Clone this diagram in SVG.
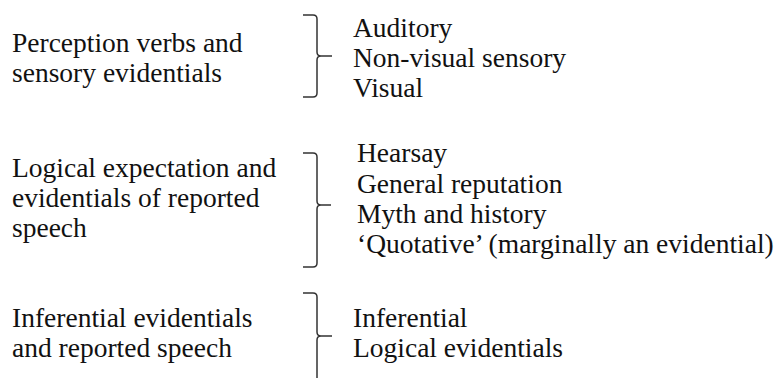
<svg xmlns="http://www.w3.org/2000/svg" width="784" height="378" viewBox="0 0 784 378">
  <style>
    text { font-family: "Liberation Serif", "DejaVu Serif", serif; font-size: 27.5px; fill: #111; }
    .brace { fill: none; stroke: #333; stroke-width: 1.5; stroke-linejoin: round; }
  </style>
  <rect width="784" height="378" fill="#ffffff"/>

  <!-- Group 1 -->
  <g id="group-perception">
    <text x="12" y="52">Perception verbs and</text>
    <text x="12" y="82">sensory evidentials</text>
  </g>
  <g id="list-perception">
    <text x="353" y="37">Auditory</text>
    <text x="353" y="67">Non-visual sensory</text>
    <text x="353" y="97">Visual</text>
  </g>

  <!-- Group 2 -->
  <g id="group-reported">
    <text x="12" y="177">Logical expectation and</text>
    <text x="12" y="207">evidentials of reported</text>
    <text x="12" y="237">speech</text>
  </g>
  <g id="list-reported">
    <text x="357" y="162">Hearsay</text>
    <text x="357" y="193">General reputation</text>
    <text x="357" y="223">Myth and history</text>
    <text x="357" y="253">‘Quotative’ (marginally an evidential)</text>
  </g>

  <!-- Group 3 -->
  <g id="group-inferential">
    <text x="12" y="327">Inferential evidentials</text>
    <text x="12" y="357">and reported speech</text>
  </g>
  <g id="list-inferential">
    <text x="353" y="327">Inferential</text>
    <text x="353" y="357">Logical evidentials</text>
  </g>

  <!-- Braces linking each category to its list -->
  <g id="connectors">
    <path class="brace" d="M303,15 H313 Q317,15 317,19 V52 Q317,56 321,56 H332 M321,56 Q317,56 317,60 V93 Q317,97 313,97 H303"/>
    <path class="brace" d="M303,153 H313 Q317,153 317,157 V201 Q317,205 321,205 H331 M321,205 Q317,205 317,209 V263 Q317,267 313,267 H303"/>
    <path class="brace" d="M303,293 H313 Q317,293 317,297 V332 Q317,336 321,336 H332 M321,336 Q317,336 317,340 V380"/>
  </g>
</svg>
